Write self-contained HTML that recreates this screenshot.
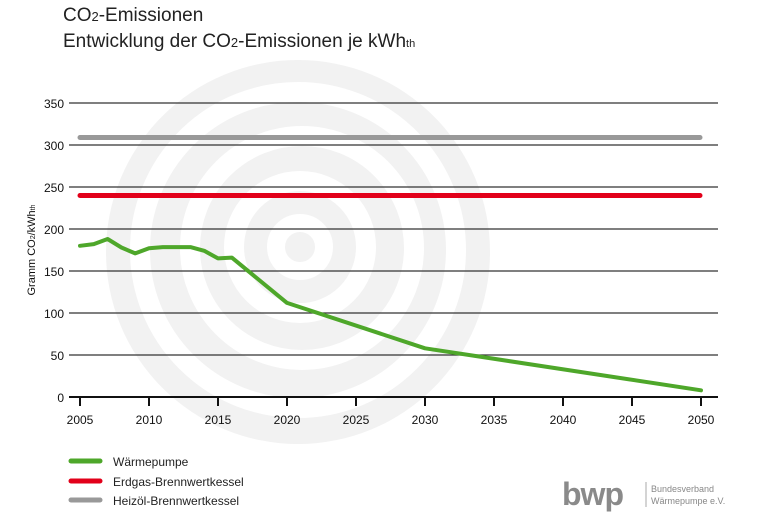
<!DOCTYPE html>
<html><head><meta charset="utf-8"><style>
body{margin:0;background:#fff;}
svg{display:block;font-family:"Liberation Sans","DejaVu Sans",sans-serif;}
</style></head><body>
<svg width="768" height="512" viewBox="0 0 768 512" xmlns="http://www.w3.org/2000/svg">
<rect width="768" height="512" fill="#fff"/>
<g>
<circle cx="298" cy="252" r="192" fill="#f2f2f2"/>
<circle cx="298" cy="250" r="158" fill="none" stroke="#fff" stroke-width="20"/>
<circle cx="302" cy="248" r="112" fill="none" stroke="#fff" stroke-width="20"/>
<circle cx="300" cy="247" r="66" fill="none" stroke="#fff" stroke-width="20"/>
<circle cx="300" cy="247" r="24" fill="none" stroke="#fff" stroke-width="18"/>
</g>
<text x="63" y="21" font-size="19" fill="#222">CO<tspan font-size="13">2</tspan>-Emissionen</text>
<text x="63" y="47" font-size="19" fill="#222">Entwicklung der CO<tspan font-size="13">2</tspan>-Emissionen je kWh<tspan font-size="11">th</tspan></text>
<g stroke="#333" stroke-width="1.2">
<line x1="69" y1="103" x2="718" y2="103"/>
<line x1="69" y1="145" x2="718" y2="145"/>
<line x1="69" y1="187" x2="718" y2="187"/>
<line x1="69" y1="229" x2="718" y2="229"/>
<line x1="69" y1="271" x2="718" y2="271"/>
<line x1="69" y1="313" x2="718" y2="313"/>
<line x1="69" y1="355" x2="718" y2="355"/>
</g>
<line x1="69" y1="397" x2="718" y2="397" stroke="#111" stroke-width="2"/>
<g stroke="#111" stroke-width="2">
<line x1="80" y1="397" x2="80" y2="406"/><line x1="149" y1="397" x2="149" y2="406"/>
<line x1="218" y1="397" x2="218" y2="406"/><line x1="287" y1="397" x2="287" y2="406"/>
<line x1="356" y1="397" x2="356" y2="406"/><line x1="425" y1="397" x2="425" y2="406"/>
<line x1="494" y1="397" x2="494" y2="406"/><line x1="563" y1="397" x2="563" y2="406"/>
<line x1="632" y1="397" x2="632" y2="406"/><line x1="701" y1="397" x2="701" y2="406"/>
</g>
<g font-size="12" fill="#111" text-anchor="end">
<text x="64" y="108">350</text><text x="64" y="150">300</text><text x="64" y="192">250</text>
<text x="64" y="234">200</text><text x="64" y="276">150</text><text x="64" y="318">100</text>
<text x="64" y="360">50</text><text x="64" y="402">0</text>
</g>
<g font-size="12" fill="#111" text-anchor="middle">
<text x="80" y="424">2005</text><text x="149" y="424">2010</text><text x="218" y="424">2015</text>
<text x="287" y="424">2020</text><text x="356" y="424">2025</text><text x="425" y="424">2030</text>
<text x="494" y="424">2035</text><text x="563" y="424">2040</text><text x="632" y="424">2045</text>
<text x="701" y="424">2050</text>
</g>
<text transform="translate(35,250) rotate(-90)" font-size="11" fill="#111" text-anchor="middle">Gramm CO<tspan font-size="7">2</tspan>/kWh<tspan font-size="7">th</tspan></text>
<line x1="80" y1="137.5" x2="700" y2="137.5" stroke="#999" stroke-width="5" stroke-linecap="round"/>
<line x1="80" y1="195.5" x2="700" y2="195.5" stroke="#e2001a" stroke-width="5" stroke-linecap="round"/>
<polyline fill="none" stroke="#4ea72a" stroke-width="4" stroke-linejoin="round" stroke-linecap="round"
points="80,245.8 93.8,244.1 107.6,239 121.4,247.5 135.2,253.4 149,248.3 162.8,247.1 176.6,247.1 190.4,247.1 204.2,250.8 218,258.4 231.8,257.6 287,302.9 425,348.3 701,390.3"/>
<g stroke-width="5" stroke-linecap="round">
<line x1="71" y1="461" x2="100" y2="461" stroke="#4ea72a"/>
<line x1="71" y1="481" x2="100" y2="481" stroke="#e2001a"/>
<line x1="71" y1="500" x2="100" y2="500" stroke="#999"/>
</g>
<g font-size="12" fill="#222">
<text x="113" y="466">Wärmepumpe</text>
<text x="113" y="486">Erdgas-Brennwertkessel</text>
<text x="113" y="505">Heizöl-Brennwertkessel</text>
</g>
<text x="562" y="505" font-size="32" font-weight="bold" fill="#8a8a8a" letter-spacing="-1">bwp</text>
<line x1="646" y1="482" x2="646" y2="507" stroke="#aaa" stroke-width="1"/>
<text x="651" y="492" font-size="9" fill="#888">Bundesverband</text>
<text x="651" y="504" font-size="9" fill="#888">Wärmepumpe e.V.</text>
</svg>
</body></html>
